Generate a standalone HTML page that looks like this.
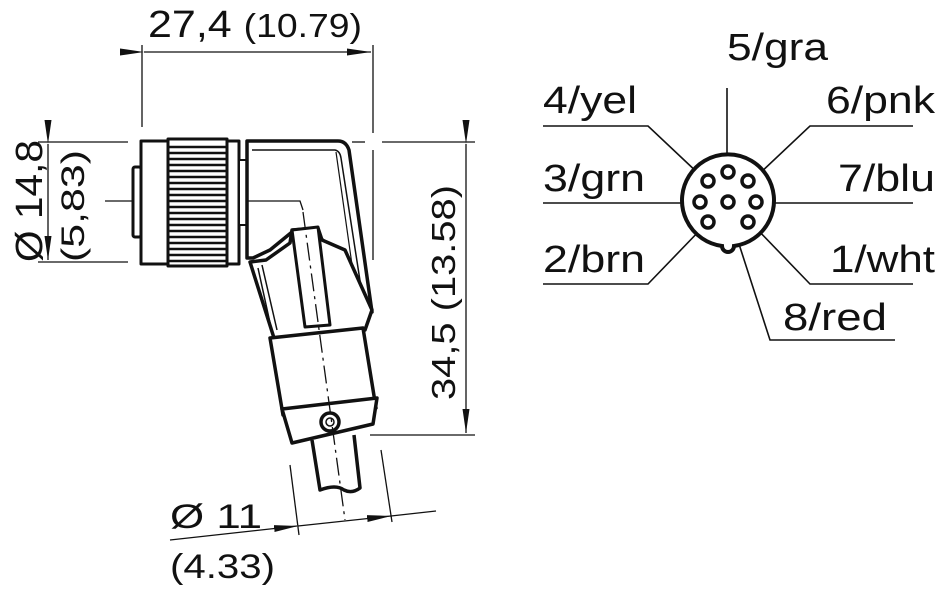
<!DOCTYPE html>
<html><head><style>
html,body{margin:0;padding:0;background:#fff;}
svg{display:block;font-family:"Liberation Sans",sans-serif;}
</style></head><body>
<svg width="940" height="600" viewBox="0 0 940 600" xmlns="http://www.w3.org/2000/svg">
<defs>
<marker id="b" markerWidth="24" markerHeight="10" refX="24" refY="5" orient="auto" markerUnits="userSpaceOnUse"><path d="M0,1.5 L24,5 L0,8.5 Z" fill="#111"/></marker>
</defs>
<g stroke="#111" fill="none" stroke-width="1.3">
<line x1="142" y1="45" x2="142" y2="127"/>
<line x1="373" y1="45" x2="373" y2="133"/>
<line x1="373" y1="150" x2="373" y2="260"/>
<line x1="144" y1="52" x2="371" y2="52" marker-start="url(#b)" marker-end="url(#b)"/>
<line x1="38" y1="142" x2="128" y2="142"/>
<line x1="38" y1="262" x2="128" y2="262"/>
<line x1="48" y1="144" x2="48" y2="260" marker-start="url(#b)" marker-end="url(#b)"/>
<line x1="352" y1="142" x2="365" y2="142"/>
<line x1="382" y1="142" x2="475" y2="142"/>
<line x1="370" y1="435" x2="475" y2="435"/>
<line x1="466" y1="144" x2="466" y2="433" marker-start="url(#b)" marker-end="url(#b)"/>
<line x1="290" y1="465" x2="299" y2="535"/>
<line x1="381" y1="450" x2="392" y2="522"/>
<line x1="170" y1="540" x2="297" y2="526"/>
<line x1="298" y1="526" x2="391" y2="516" marker-start="url(#b)" marker-end="url(#b)"/>
<line x1="391" y1="516" x2="436" y2="511"/>
</g>
<g fill="#111" font-size="38">
<text x="148" y="37" textLength="214" lengthAdjust="spacingAndGlyphs">27,4 <tspan font-size="33">(10.79)</tspan></text>
<text transform="translate(42,262) rotate(-90)" textLength="122" lengthAdjust="spacingAndGlyphs">Ø 14,8</text>
<text transform="translate(84,262) rotate(-90)" font-size="32" textLength="112" lengthAdjust="spacingAndGlyphs">(5,83)</text>
<text transform="translate(455,400) rotate(-90)" font-size="33" textLength="215" lengthAdjust="spacingAndGlyphs">34,5 (13.58)</text>
<text x="170" y="528" font-size="34" textLength="92" lengthAdjust="spacingAndGlyphs">Ø 11</text>
<text x="170" y="578" font-size="34" textLength="105" lengthAdjust="spacingAndGlyphs">(4.33)</text>
</g>
<g stroke="#111" fill="#fff" stroke-width="3" stroke-linejoin="round">
<rect x="133" y="167" width="8" height="70" rx="2"/>
<rect x="141" y="141" width="98" height="123"/>
<rect x="168" y="139" width="59" height="127"/>
<rect x="239" y="160" width="8" height="65" stroke-width="2"/>
</g>
<g stroke="#111" stroke-width="2.6">
<line x1="168" y1="147" x2="227" y2="147"/><line x1="168" y1="153" x2="227" y2="153"/>
<line x1="168" y1="159" x2="227" y2="159"/><line x1="168" y1="165" x2="227" y2="165"/>
<line x1="168" y1="171" x2="227" y2="171"/><line x1="168" y1="177" x2="227" y2="177"/>
<line x1="168" y1="183" x2="227" y2="183"/><line x1="168" y1="189" x2="227" y2="189"/>
<line x1="168" y1="195" x2="227" y2="195"/><line x1="168" y1="201" x2="227" y2="201"/>
<line x1="168" y1="207" x2="227" y2="207"/><line x1="168" y1="213" x2="227" y2="213"/>
<line x1="168" y1="219" x2="227" y2="219"/><line x1="168" y1="225" x2="227" y2="225"/>
<line x1="168" y1="231" x2="227" y2="231"/><line x1="168" y1="237" x2="227" y2="237"/>
<line x1="168" y1="243" x2="227" y2="243"/><line x1="168" y1="249" x2="227" y2="249"/>
<line x1="168" y1="255" x2="227" y2="255"/><line x1="168" y1="261" x2="227" y2="261"/>
</g>
<g stroke="#111" fill="#fff" stroke-width="3.5" stroke-linejoin="round">
<path d="M247,141 L338,141 Q346,141 349,150 L372,312 L358,312 L355,288 L335,250 L310,230 L292,232 L270,250 L253,258 L247,258 Z"/>
<path d="M252,150 L335,150 Q340,151 341,158 L363,300" stroke-width="1.5" fill="none"/>
<path d="M336,152 L357,300" stroke-width="1.2" fill="none"/>
<path d="M250,262 L266,260 L290,243 L292,230 L318,228 L322,240 L345,250 L372,310 L365,330 L274,338 Z"/>
<path d="M258,268 L272,332 M262,265 L277,330" stroke-width="1.5" fill="none"/>
<path d="M292,230 L318,227 L330,325 L305,327 Z" stroke-width="3"/>
<path d="M270,338 L363,328 L376,408 L283,415 Z"/>
<path d="M282,409 L377,398 L373,424 L292,443 Z"/>
<circle cx="330" cy="422" r="9"/>
<circle cx="330" cy="422" r="4" stroke-width="1.5"/>
<path d="M312,440 L320,490 Q336,484 344,490 Q352,494 360,488 L354,435"/>
</g>
<g stroke="#111" fill="none" stroke-width="1.3">
<path d="M105,201 L133,201"/>
<path d="M247,201 L300,201 L303,210"/>
<path d="M303,212 L345,520" stroke-dasharray="18,5,3,5"/>
</g>
<g stroke="#111" stroke-width="1.6" fill="none">
<line x1="727" y1="88" x2="727" y2="165"/>
<path d="M543,126 L648,126 L700,175"/>
<path d="M913,126 L810,126 L758,175"/>
<line x1="543" y1="203" x2="682" y2="203"/>
<line x1="775" y1="203" x2="913" y2="203"/>
<path d="M543,284 L648,284 L703,227"/>
<path d="M913,284 L810,284 L755,227"/>
<path d="M728,210 L770,340 L895,340"/>
</g>
<g stroke="#111" stroke-width="4" fill="#fff">
<path d="M722,246 A46,46 0 1 1 734,246 A6,6 0 0 1 722,246 Z"/>
</g>
<g stroke="#111" stroke-width="3.5" fill="#fff">
<circle cx="728" cy="172" r="6"/>
<circle cx="708" cy="181" r="6"/>
<circle cx="748" cy="181" r="6"/>
<circle cx="700" cy="202" r="6"/>
<circle cx="728" cy="202" r="6"/>
<circle cx="756" cy="202" r="6"/>
<circle cx="708" cy="222" r="6"/>
<circle cx="748" cy="222" r="6"/>
</g>
<g fill="#111" font-size="38">
<text x="727" y="60" textLength="101" lengthAdjust="spacingAndGlyphs">5/gra</text>
<text x="543" y="113" textLength="94" lengthAdjust="spacingAndGlyphs">4/yel</text>
<text x="826" y="113" textLength="109" lengthAdjust="spacingAndGlyphs">6/pnk</text>
<text x="543" y="191" textLength="102" lengthAdjust="spacingAndGlyphs">3/grn</text>
<text x="838" y="191" textLength="97" lengthAdjust="spacingAndGlyphs">7/blu</text>
<text x="543" y="272" textLength="102" lengthAdjust="spacingAndGlyphs">2/brn</text>
<text x="830" y="272" textLength="105" lengthAdjust="spacingAndGlyphs">1/wht</text>
<text x="783" y="330" textLength="104" lengthAdjust="spacingAndGlyphs">8/red</text>
</g>
</svg>
</body></html>
